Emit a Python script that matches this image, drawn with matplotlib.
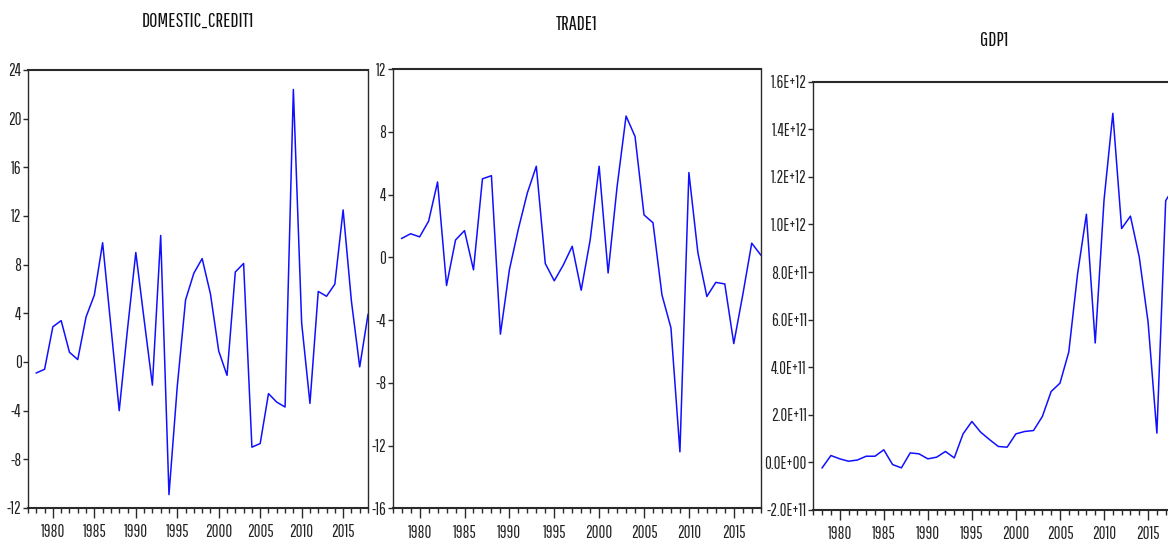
import matplotlib
matplotlib.use("Agg")
import matplotlib.pyplot as plt
from matplotlib.ticker import FixedLocator, FuncFormatter, MultipleLocator
import numpy as np

# EViews-style line graphs, 1978-2018
years = list(range(1978, 2019))

domestic_credit = [
    -0.9, -0.6, 2.9, 3.4, 0.8, 0.2, 3.7, 5.5, 9.8, 2.9,
    -4.0, 2.7, 9.0, 3.5, -1.9, 10.4, -10.9, -2.0, 5.1, 7.3,
    8.5, 5.6, 0.9, -1.1, 7.4, 8.1, -7.0, -6.7, -2.6, -3.3,
    -3.7, 22.4, 3.2, -3.4, 5.8, 5.4, 6.4, 12.5, 5.0, -0.4,
    3.9,
]

trade = [
    1.2, 1.5, 1.3, 2.3, 4.8, -1.8, 1.1, 1.7, -0.8, 5.0,
    5.2, -4.9, -0.8, 1.8, 4.1, 5.8, -0.4, -1.5, -0.5, 0.7,
    -2.1, 1.1, 5.8, -1.0, 4.5, 9.0, 7.7, 2.7, 2.2, -2.4,
    -4.5, -12.4, 5.4, 0.3, -2.5, -1.6, -1.7, -5.5, -2.4, 0.9,
    0.15,
]

# GDP1 in units of 1e11
gdp_e11 = [
    -0.23, 0.29, 0.15, 0.05, 0.10, 0.26, 0.26, 0.53, -0.09, -0.23,
    0.40, 0.36, 0.15, 0.22, 0.46, 0.19, 1.20, 1.72, 1.27, 0.96,
    0.67, 0.64, 1.20, 1.30, 1.34, 1.93, 2.98, 3.33, 4.64, 7.93,
    10.43, 5.02, 11.02, 14.67, 9.83, 10.35, 8.63, 5.90, 1.23, 11.0,
    11.6,
]
gdp = np.array(gdp_e11) * 1e11

titles = ["DOMESTIC_CREDIT1", "TRADE1", "GDP1"]
year_labels = [1980, 1985, 1990, 1995, 2000, 2005, 2010, 2015]

# narrow font to mimic the squeezed screenshot text
plt.rcParams["font.family"] = ["Pathway Gothic One", "DejaVu Sans"]

W, H = 1168, 541
LINE = "#1010ff"
SPINE = "#2a2a2a"


def px_axes(fig, left, top, right, bottom):
    return fig.add_axes([left / W, 1 - bottom / H, (right - left) / W, (bottom - top) / H])


def style(ax, ylim, ystep, fmt):
    ax.set_xlim(1977, 2018)
    ax.set_ylim(*ylim)
    ax.xaxis.set_major_locator(FixedLocator(year_labels))
    ax.xaxis.set_minor_locator(MultipleLocator(1))
    ax.yaxis.set_major_locator(MultipleLocator(ystep))
    ax.yaxis.set_major_formatter(FuncFormatter(fmt))
    ax.tick_params(axis="x", which="major", direction="out", length=7.2, width=1.0,
                   colors=SPINE, labelsize=12, pad=4.5, labelcolor="#222222")
    ax.tick_params(axis="x", which="minor", direction="out", length=3.6, width=1.0,
                   colors=SPINE)
    ax.tick_params(axis="y", direction="out", length=3.6, width=1.0,
                   colors=SPINE, labelsize=12, pad=1, labelcolor="#222222")
    for side, sp in ax.spines.items():
        sp.set_color(SPINE)
        sp.set_linewidth(1.5 if side in ("top", "bottom") else 1.0)


fig = plt.figure(figsize=(W / 100, H / 100), dpi=100)

ax1 = px_axes(fig, 28, 70, 368, 508)
ax1.plot(years, domestic_credit, color=LINE, lw=1.1)
style(ax1, (-12, 24), 4, lambda v, p: f"{v:.0f}")

ax2 = px_axes(fig, 392.7, 69, 760.7, 508.3)
ax2.plot(years, trade, color=LINE, lw=1.1)
style(ax2, (-16, 12), 4, lambda v, p: f"{v:.0f}")

# third panel is cut off at the right edge of the screenshot
ax3 = px_axes(fig, 813.3, 81.7, 1174.5, 510)
ax3.plot(years, gdp, color=LINE, lw=1.1)
style(ax3, (-2e11, 1.6e12), 2e11, lambda v, p: format(v, ".1E"))

for (x, y), t in zip([(198, 21.5), (577, 24.5), (994, 41)], titles):
    fig.text(x / W, 1 - y / H, t, ha="center", va="center", fontsize=14.5, color="#111111")

fig.savefig("out.png", dpi=100)
